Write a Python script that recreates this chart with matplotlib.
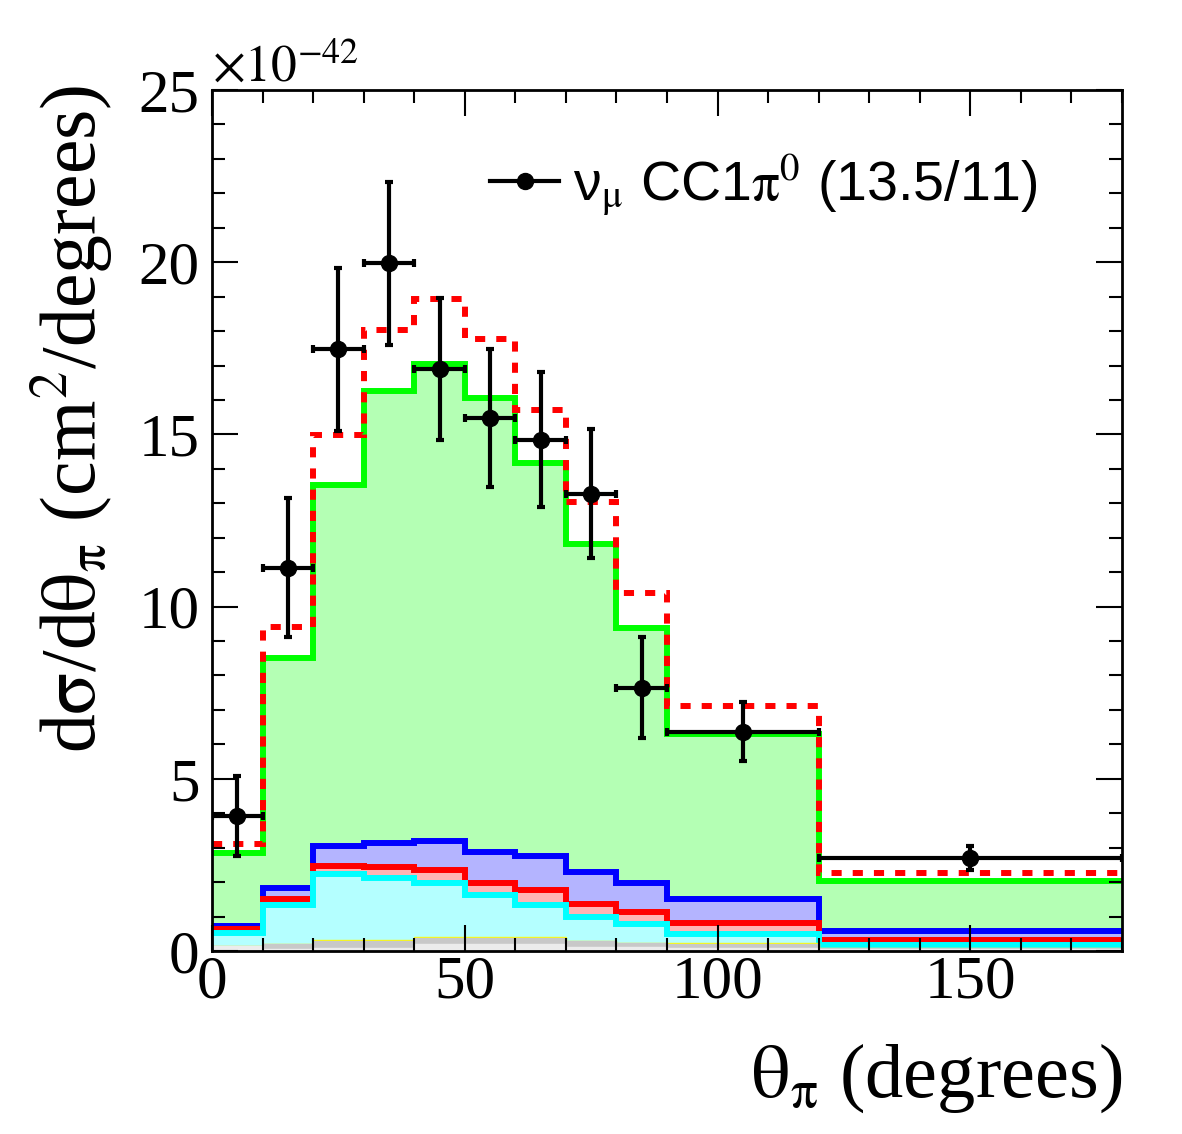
import matplotlib
matplotlib.use('Agg')
import matplotlib.pyplot as plt
from matplotlib.lines import Line2D
from matplotlib.ticker import MultipleLocator
import numpy as np

# bin edges in degrees
edges = [0, 10, 20, 30, 40, 50, 60, 70, 80, 90, 120, 180]

# data points (x1e-42 cm^2/degree)
data_y = [3.92, 11.13, 17.47, 19.97, 16.90, 15.47, 14.85, 13.28, 7.65, 6.37, 2.70]
data_err = [1.17, 2.02, 2.37, 2.37, 2.07, 2.00, 1.96, 1.88, 1.46, 0.86, 0.35]

# red dashed total prediction
mc_total = [3.11, 9.42, 14.97, 18.02, 18.92, 17.76, 15.70, 13.05, 10.40, 7.12, 2.27]

# stacked components (cumulative tops)
green_top = [2.85, 8.52, 13.52, 16.25, 17.03, 16.05, 14.16, 11.83, 9.39, 6.31, 2.03]
blue_top = [0.72, 1.83, 3.05, 3.14, 3.20, 2.88, 2.76, 2.29, 1.97, 1.51, 0.58]
red_top = [0.64, 1.51, 2.47, 2.44, 2.35, 1.97, 1.77, 1.37, 1.13, 0.81, 0.31]
cyan_top = [0.52, 1.33, 2.24, 2.12, 1.98, 1.62, 1.33, 1.00, 0.79, 0.50, 0.17]
yellow_top = [0.15, 0.21, 0.31, 0.31, 0.41, 0.41, 0.41, 0.30, 0.24, 0.22, 0.10]
grey_top = [0.14, 0.19, 0.29, 0.29, 0.39, 0.39, 0.39, 0.29, 0.23, 0.21, 0.09]
lightgrey_top = [0.14, 0.06, 0.09, 0.09, 0.20, 0.20, 0.20, 0.12, 0.12, 0.10, 0.05]

legend_label = 'ν$_{\\mathrm{\\mu}}$ CC1$\\mathrm{\\pi^{0}}$ (13.5/11)'

plt.rcParams['mathtext.fontset'] = 'stix'
serif = 'Liberation Serif'
sans = 'Liberation Sans'

fig = plt.figure(figsize=(11.82, 11.34), dpi=100)
ax = fig.add_axes([212 / 1182, 1 - 951 / 1134, 910 / 1182, 861 / 1134])

edges_a = np.array(edges)
lw = 4.3

# stacked layers, each drawn from zero like ROOT's THStack
layers = [
    (green_top, '#b4ffb4', '#00ff00', lw),
    (blue_top, '#b4b4ff', '#0000ff', lw),
    (red_top, '#ffb4b4', '#ff0000', lw),
    (cyan_top, '#b4ffff', '#00ffff', lw),
    (yellow_top, '#ffff00', '#ffff00', 1.0),
    (grey_top, '#c8c8c8', '#c8c8c8', 1.0),
    (lightgrey_top, '#ececec', '#ececec', 1.0),
]
for top, fc, lc, w in layers:
    ax.stairs(top, edges_a, baseline=0, fill=True, color=fc, lw=0)
    ax.stairs(top, edges_a, baseline=None, color=lc, lw=w)

# total prediction, dashed red
ax.stairs(mc_total, edges_a, baseline=None, color='#ff0000', lw=lw,
          linestyle=(0, (1.7, 1.85)))

# data with errors
centers = 0.5 * (edges_a[1:] + edges_a[:-1])
half_w = 0.5 * (edges_a[1:] - edges_a[:-1])
ax.errorbar(centers, data_y, yerr=data_err, xerr=half_w, fmt='o', color='black',
            ms=11.5, elinewidth=3, capsize=3.2, capthick=3, zorder=10)

ax.set_xlim(0, 180)
ax.set_ylim(0, 25)
ax.xaxis.set_major_locator(MultipleLocator(50))
ax.xaxis.set_minor_locator(MultipleLocator(10))
ax.yaxis.set_major_locator(MultipleLocator(5))
ax.yaxis.set_minor_locator(MultipleLocator(1))
ax.tick_params(which='both', direction='in', top=True, right=True, width=1.5)
ax.tick_params(which='major', length=19)
ax.tick_params(which='minor', length=9.5)
ax.tick_params(axis='x', pad=3)
ax.tick_params(axis='y', pad=9)
for lab in ax.get_xticklabels() + ax.get_yticklabels():
    lab.set_family(serif)
    lab.set_fontsize(44)
for sp in ax.spines.values():
    sp.set_linewidth(2)

fig.text(212 / 1182, 1 - 82 / 1134, r'$\times10^{-42}$', fontsize=37,
         family=serif, ha='left', va='baseline')

fig.text(1122 / 1182, 1 - 1097 / 1134, r'$\mathrm{\theta_{\pi}}$ (degrees)', fontsize=55,
         family=serif, ha='right', va='baseline')
fig.text(72 / 1182, 1 - 85 / 1134,
         r'd$\mathrm{\sigma}$/d$\mathrm{\theta_{\pi}}$ (cm$^{2}$/degrees)',
         fontsize=56, family=serif, rotation=90, ha='center', va='top')

handle = Line2D([], [], color='black', lw=3, marker='o', ms=11.5)
leg = ax.legend([handle], [legend_label], loc='center left',
                bbox_to_anchor=(490 / 1182, 1 - 185 / 1134),
                bbox_transform=fig.transFigure, frameon=False,
                prop={'family': sans, 'size': 40}, handlelength=1.25,
                handletextpad=0.25, borderpad=0, borderaxespad=0)

fig.savefig('out.png', dpi=100)
